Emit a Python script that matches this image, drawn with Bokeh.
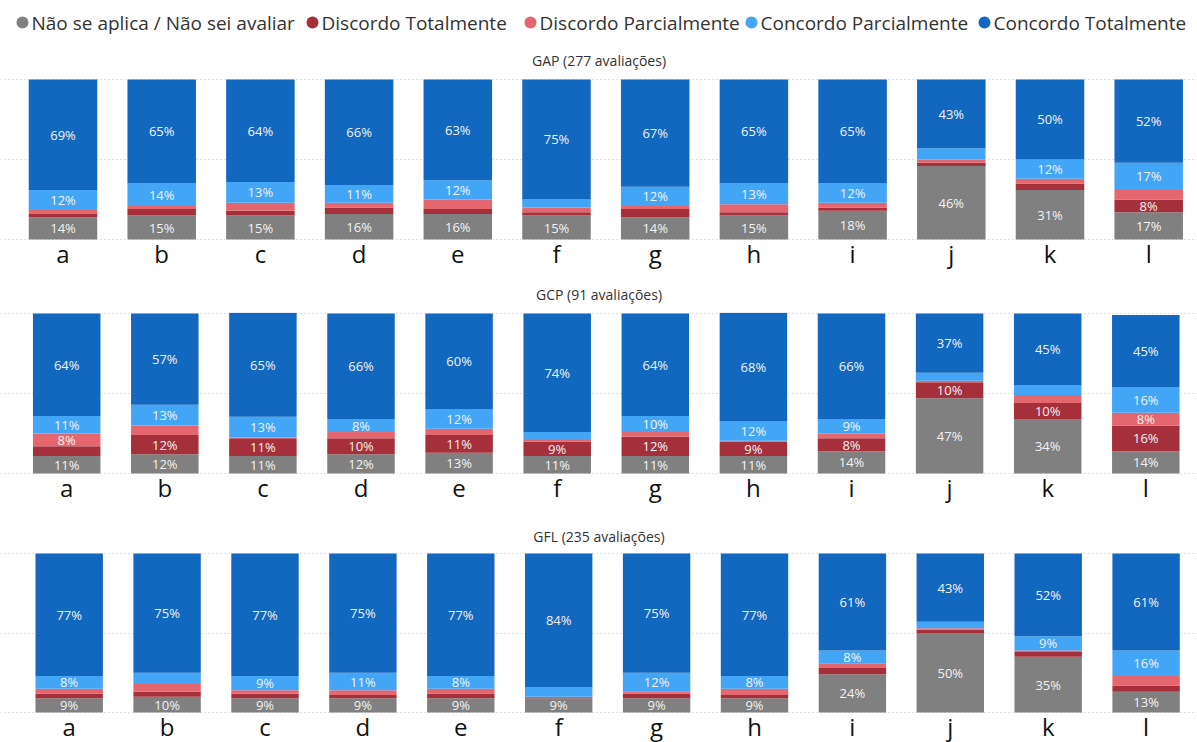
from bokeh.plotting import figure
from bokeh.layouts import column
from bokeh.models import ColumnDataSource, Range1d, FixedTicker
from bokeh.core.properties import value
from bokeh.embed import file_html
from bokeh.resources import INLINE

# Questions (x categories) shared by all three groups
categories = ["a", "b", "c", "d", "e", "f", "g", "h", "i", "j", "k", "l"]

series_names = ["Não se aplica / Não sei avaliar", "Discordo Totalmente",
                "Discordo Parcialmente", "Concordo Parcialmente", "Concordo Totalmente"]
series_keys = ["na", "dt", "dp", "cp", "ct"]
series_colors = ["#808080", "#A52F3A", "#E4676F", "#42A5F5", "#1267BE"]

# GAP (277 avaliações) — percentages per answer
gap_na = [14, 15, 15, 16, 16, 15, 14, 15, 18, 46, 31, 17]
gap_dt = [2, 4, 3, 4, 3, 2, 5, 2, 2, 2, 4, 8]
gap_dp = [3, 2, 5, 3, 6, 3, 2, 5, 3, 2, 3, 6]
gap_cp = [12, 14, 13, 11, 12, 5, 12, 13, 12, 7, 12, 17]
gap_ct = [69, 65, 64, 66, 63, 75, 67, 65, 65, 43, 50, 52]

# GCP (91 avaliações)
gcp_na = [11, 12, 11, 12, 13, 11, 11, 11, 14, 47, 34, 14]
gcp_dt = [6, 12, 11, 10, 11, 9, 12, 9, 8, 10, 10, 16]
gcp_dp = [8, 6, 0.5, 4, 4, 1, 3, 0.5, 3, 1, 5, 8]
gcp_cp = [11, 13, 13, 8, 12, 5, 10, 12, 9, 5, 6, 16]
gcp_ct = [64, 57, 65, 66, 60, 74, 64, 68, 66, 37, 45, 45]

# GFL (235 avaliações)
gfl_na = [9, 10, 9, 9, 9, 9, 9, 9, 24, 50, 35, 13]
gfl_dt = [3, 3, 3, 2, 3, 0.6, 3, 2, 4, 2, 3, 4]
gfl_dp = [3, 5, 2, 3, 3, 0.4, 1, 4, 3, 1, 1, 6]
gfl_cp = [8, 7, 9, 11, 8, 6, 12, 8, 8, 4, 9, 16]
gfl_ct = [77, 75, 77, 75, 77, 84, 75, 77, 61, 43, 52, 61]

panel_titles = ["GAP (277 avaliações)", "GCP (91 avaliações)", "GFL (235 avaliações)"]

W = 1197
FONT = "Open Sans"
LABEL_MIN = 8  # segments smaller than this carry no data label


def panel(title, series, first_center, step, bar_px, height, border_bottom,
          title_standoff):
    x = list(range(len(categories)))
    data = {"x": x}
    for k, v in zip(series_keys, series):
        data[k] = v
    src = ColumnDataSource(data)

    p = figure(width=W, height=height,
               x_range=Range1d(-first_center / step, (W - first_center) / step),
               y_range=Range1d(-0.6, 100.6),
               output_backend="svg", toolbar_location=None,
               y_axis_location=None, title=title,
               min_border_left=0, min_border_right=0,
               min_border_top=36, min_border_bottom=border_bottom)
    p.title.align = "center"
    p.title.text_font = FONT
    p.title.text_font_size = "14px"
    p.title.text_font_style = "normal"
    p.title.text_color = "#333333"
    p.title.standoff = title_standoff
    p.outline_line_color = None

    p.vbar_stack(series_keys, x="x", width=bar_px / step, color=series_colors,
                 line_color=None, source=src)

    # data labels centred in each segment
    lx, ly, lt = [], [], []
    for i in x:
        base = 0
        for v in series:
            val = v[i]
            if val >= LABEL_MIN:
                lx.append(i)
                ly.append(base + val / 2)
                lt.append(f"{val:.0f}%")
            base += val
    p.text(x=lx, y=ly, text=lt, text_align="center", text_baseline="middle",
           text_color="#F2F2F2", text_font=value(FONT), text_font_size="13px")

    p.xgrid.visible = False
    p.ygrid.ticker = FixedTicker(ticks=[0, 50, 100])
    p.ygrid.grid_line_color = "#C4C4C4"
    p.ygrid.grid_line_dash = "1 3"
    p.ygrid.grid_line_width = 1
    p.ygrid.level = "underlay"

    ax = p.xaxis[0]
    ax.ticker = FixedTicker(ticks=x)
    ax.major_label_overrides = {i: c for i, c in enumerate(categories)}
    ax.axis_line_color = None
    ax.major_tick_line_color = None
    ax.minor_tick_line_color = None
    ax.major_tick_out = 0
    ax.major_tick_in = 0
    ax.major_label_standoff = -4
    ax.major_label_text_font = FONT
    ax.major_label_text_font_size = "24px"
    ax.major_label_text_color = "#111111"
    return p


# legend strip: pixel-mapped ranges, one dot + label per answer
LEG_H = 39
leg = figure(width=W, height=LEG_H, x_range=Range1d(0, W), y_range=Range1d(0, LEG_H),
             output_backend="svg", toolbar_location=None,
             x_axis_location=None, y_axis_location=None,
             min_border_left=0, min_border_right=0, min_border_top=0, min_border_bottom=0)
leg.grid.visible = False
leg.outline_line_color = None
dot_x = [22, 312, 530, 751, 984]
leg_y = 17
leg.scatter(x=dot_x, y=[leg_y] * len(dot_x), marker="circle", size=12,
            color=series_colors, line_color=None)
leg.text(x=[d + 9 for d in dot_x], y=[leg_y] * len(dot_x), text=series_names,
         text_align="left", text_baseline="middle", text_color="#333333",
         text_font=value(FONT), text_font_size="19px")

p1 = panel(panel_titles[0], [gap_na, gap_dt, gap_dp, gap_cp, gap_ct],
           62.5, 98.7, 68.5, 235, 34, 18)
p2 = panel(panel_titles[1], [gcp_na, gcp_dt, gcp_dp, gcp_cp, gcp_ct],
           66.2, 98.1, 67.5, 242, 42, 17)
p3 = panel(panel_titles[2], [gfl_na, gfl_dt, gfl_dp, gfl_cp, gfl_ct],
           68.7, 97.9, 67.4, 234, 37, 14)

layout = column(leg, p1, p2, p3, spacing=0)
open("out.html", "w").write(file_html(layout, INLINE))
